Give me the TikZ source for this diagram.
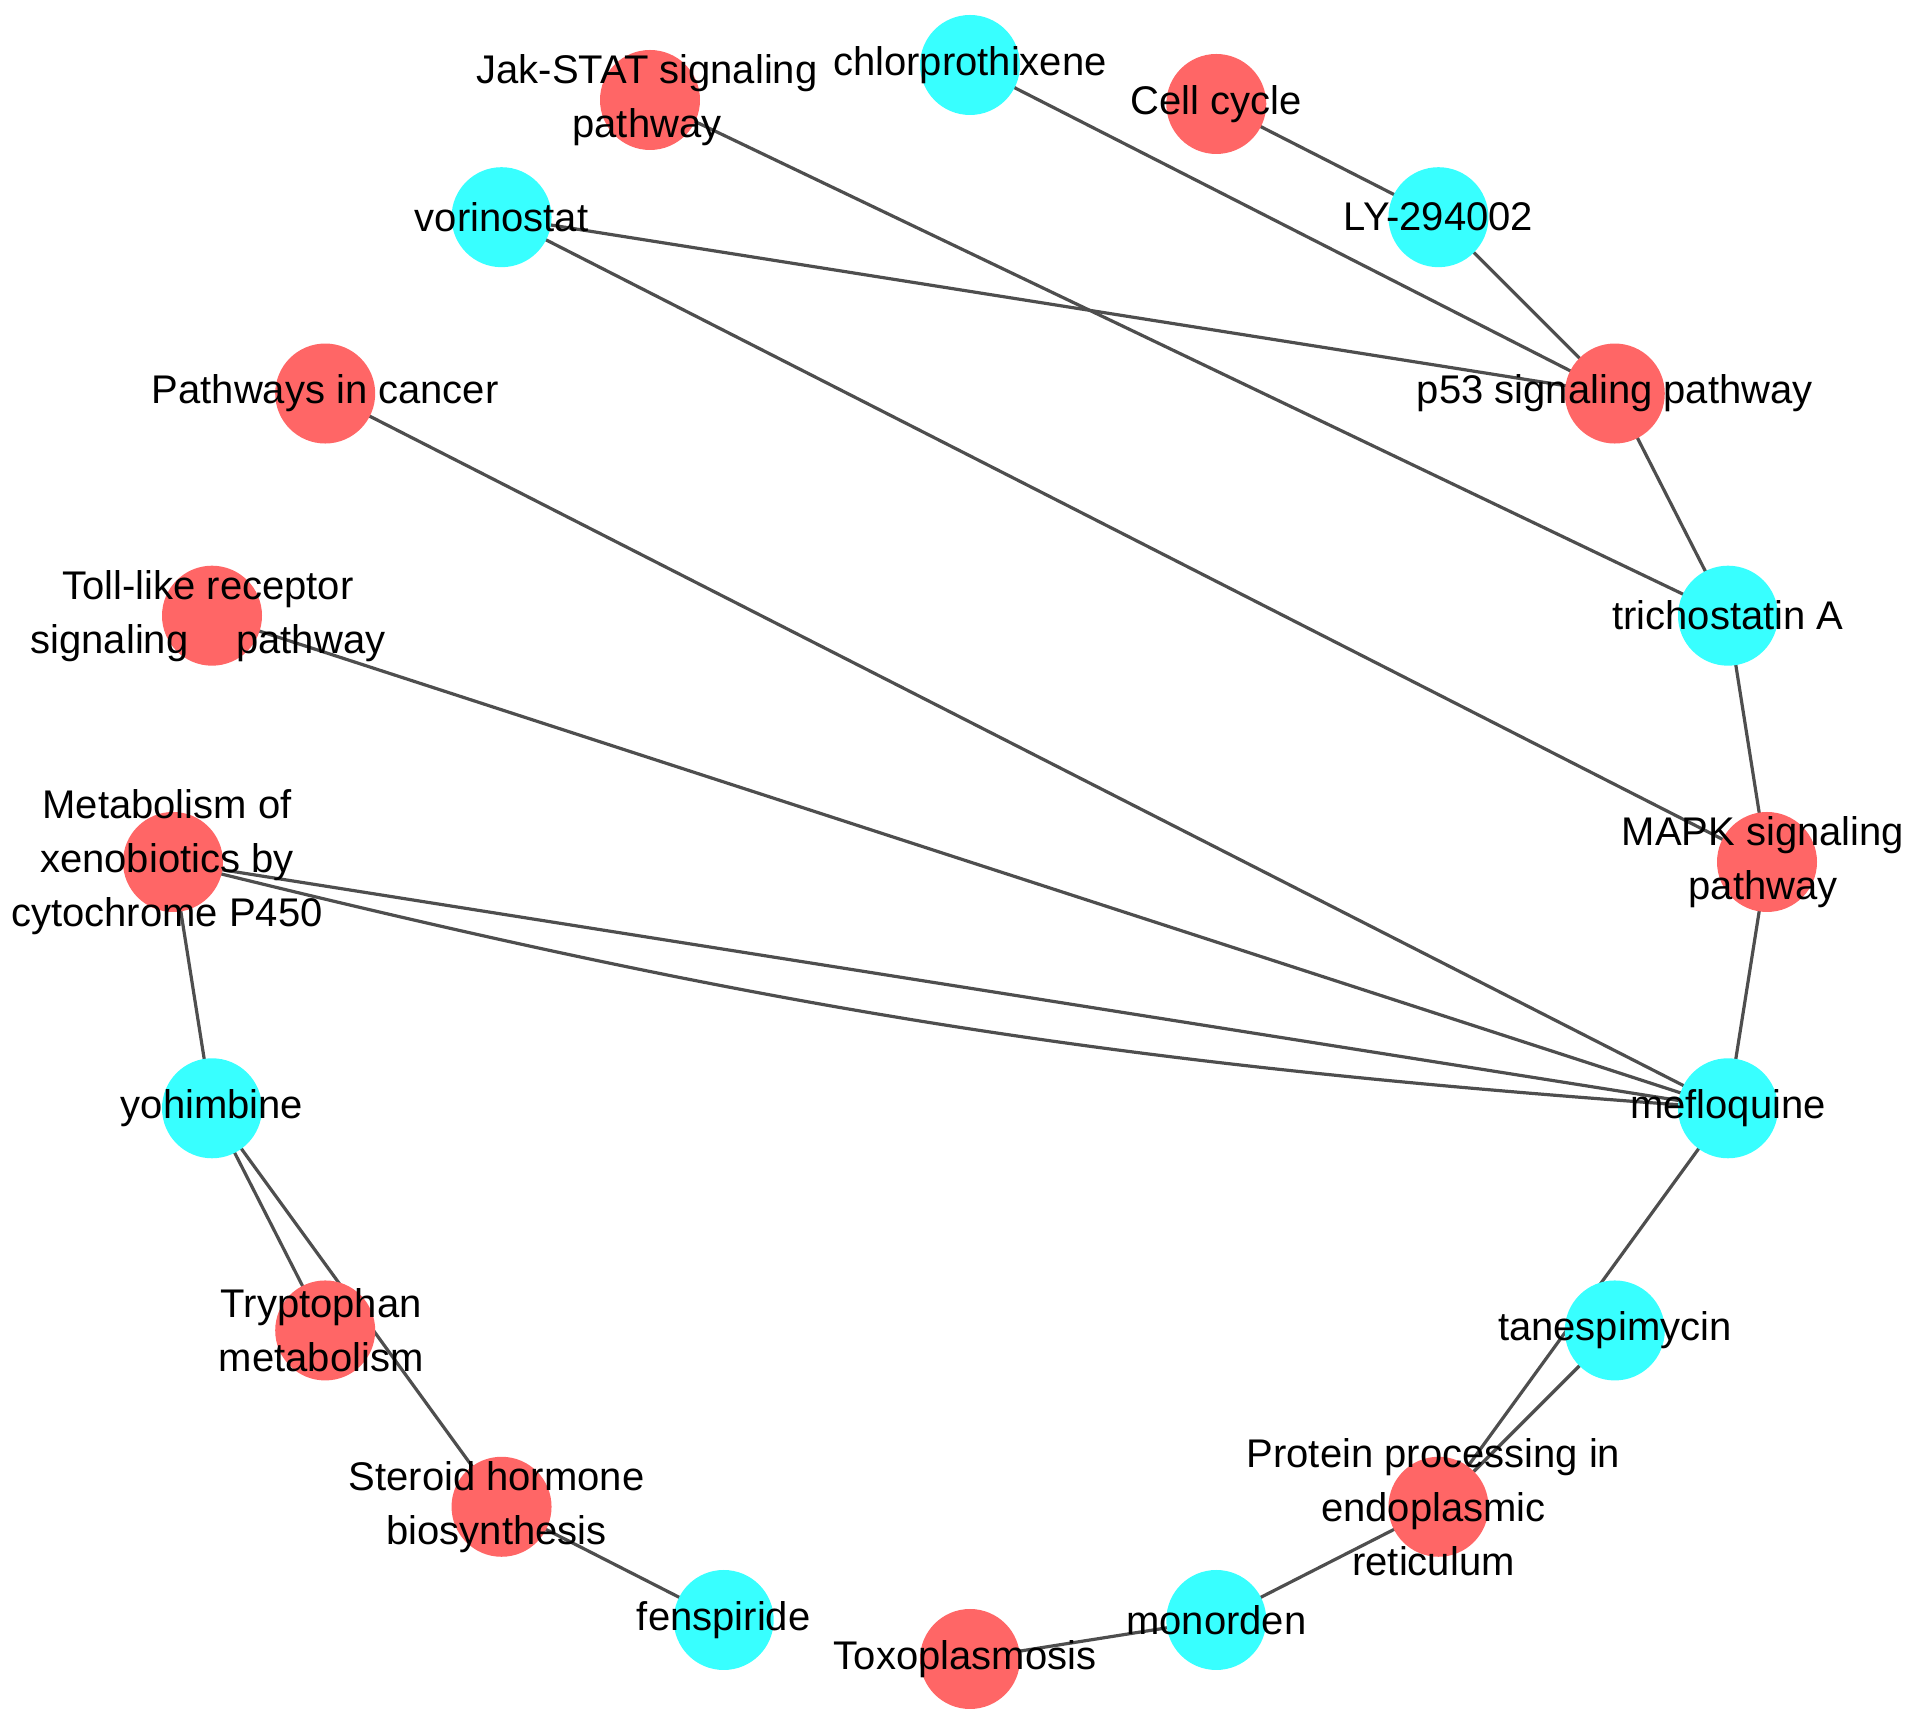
\documentclass[tikz,border=0pt]{standalone}
\usepackage{fontspec}
\setmainfont{Liberation Sans}
\usetikzlibrary{backgrounds}
\definecolor{nodered}{RGB}{255,102,102}
\definecolor{nodecyan}{RGB}{56,255,255}
\definecolor{edgegray}{RGB}{78,78,78}
\tikzset{
  base/.style={circle,minimum size=50pt,inner sep=0pt,draw=none},
  redn/.style={base,fill=nodered},
  cyann/.style={base,fill=nodecyan},
  lbl/.style={align=center,inner sep=0pt,text=black,font=\fontsize{20}{27}\selectfont},
  edge/.style={draw=edgegray,line width=1.6pt}
}
\begin{document}
\begin{tikzpicture}[x=0.5pt,y=0.5pt]
\useasboundingbox (0,0) rectangle (1913,1729);
\coordinate (C) at (970,867);
% nodes
\path (C) ++(90:797)   node[cyann] (chl) {};
\path (C) ++(72:797)   node[redn]  (cc)  {};
\path (C) ++(54:797)   node[cyann] (ly)  {};
\path (C) ++(36:797)   node[redn]  (p53) {};
\path (C) ++(18:797)   node[cyann] (tsa) {};
\path (C) ++(0:797)    node[redn]  (mapk) {};
\path (C) ++(-18:797)  node[cyann] (mef) {};
\path (C) ++(-36:797)  node[cyann] (tan) {};
\path (C) ++(-54:797)  node[redn]  (ppe) {};
\path (C) ++(-72:797)  node[cyann] (mon) {};
\path (C) ++(-90:797)  node[redn]  (tox) {};
\path (C) ++(-108:797) node[cyann] (fen) {};
\path (C) ++(-126:797) node[redn]  (ste) {};
\path (C) ++(-144:797) node[redn]  (trp) {};
\path (C) ++(-162:797) node[cyann] (yoh) {};
\path (C) ++(180:797)  node[redn]  (met) {};
\path (C) ++(162:797)  node[redn]  (tlr) {};
\path (C) ++(144:797)  node[redn]  (pic) {};
\path (C) ++(126:797)  node[cyann] (vor) {};
\node[redn] (jak) at (650,1629) {};
% edges
\begin{pgfonlayer}{background}
\draw[edge] (cc.center) -- (ly.center);
\draw[edge] (ly.center) -- (p53.center);
\draw[edge] (chl.center) -- (p53.center);
\draw[edge] (vor.center) -- (p53.center);
\draw[edge] (jak.center) -- (tsa.center);
\draw[edge] (p53.center) -- (tsa.center);
\draw[edge] (vor.center) -- (mapk.center);
\draw[edge] (tsa.center) -- (mapk.center);
\draw[edge] (mapk.center) -- (mef.center);
\draw[edge] (pic.center) -- (mef.center);
\draw[edge] (tlr.center) -- (mef.center);
\draw[edge] (met.center) -- (mef.center);
\draw[edge] (met.center) to[bend right=5] (mef.center);
\draw[edge] (met.center) -- (yoh.center);
\draw[edge] (yoh.center) -- (trp.center);
\draw[edge] (yoh.center) -- (ste.center);
\draw[edge] (ste.center) -- (fen.center);
\draw[edge] (tox.center) -- (mon.center);
\draw[edge] (mon.center) -- (ppe.center);
\draw[edge] (tan.center) -- (ppe.center);
\draw[edge] (mef.center) -- (ppe.center);
\end{pgfonlayer}
% labels
\node[lbl] (chl-l) at (chl) {chlorprothixene};
\node[lbl] (cc-l) at (cc) {Cell cycle};
\node[lbl] (ly-l) at (ly) {LY-294002};
\node[lbl] (p53-l) at (p53) {p53 signaling pathway};
\node[lbl] (tsa-l) at (tsa) {trichostatin A};
\node[lbl] (mapk-l) at ([xshift=-2pt]mapk) {MAPK signaling\\pathway};
\node[lbl] (mef-l) at (mef) {mefloquine};
\node[lbl] (tan-l) at (tan) {tanespimycin};
\node[lbl] (ppe-l) at ([xshift=-2.5pt]ppe) {Protein processing in\\endoplasmic\\reticulum};
\node[lbl] (mon-l) at (mon) {monorden};
\node[lbl] (tox-l) at ([xshift=-2.5pt]tox) {Toxoplasmosis};
\node[lbl] (fen-l) at (fen) {fenspiride};
\node[lbl] (ste-l) at ([xshift=-2.5pt]ste) {Steroid hormone\\biosynthesis};
\node[lbl] (trp-l) at ([xshift=-2pt]trp) {Tryptophan\\metabolism};
\node[lbl] (yoh-l) at (yoh) {yohimbine};
\node[lbl] (met-l) at ([xshift=-3pt]met) {Metabolism of\\xenobiotics by\\cytochrome P450};
\node[lbl] (tlr-l) at ([xshift=-2pt]tlr) {Toll-like receptor\\signaling\hspace{24pt}pathway};
\node[lbl] (pic-l) at (pic) {Pathways in cancer};
\node[lbl] (vor-l) at (vor) {vorinostat};
\node[lbl] (jak-l) at ([xshift=-1.5pt]jak) {Jak-STAT signaling\\pathway};
\end{tikzpicture}
\end{document}
